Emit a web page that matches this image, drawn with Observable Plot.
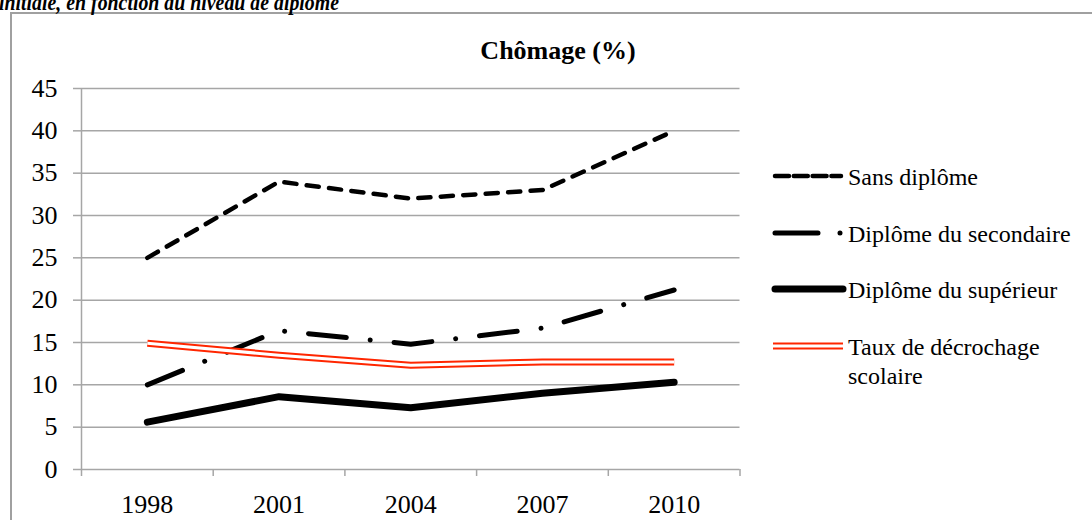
<!DOCTYPE html>
<html><head><meta charset="utf-8">
<script src="https://cdn.jsdelivr.net/npm/d3@7"></script>
<script src="https://cdn.jsdelivr.net/npm/@observablehq/plot@0.6"></script>
<style>
body{margin:0;background:#fff;}
#wrap{position:relative;width:1092px;height:520px;overflow:hidden;font-family:"Liberation Serif",serif;color:#000;}
#heading{position:absolute;left:-1px;top:-10px;font:bold italic 24px/1 "Liberation Serif",serif;white-space:nowrap;transform-origin:0 0;}
#frame{position:absolute;left:10px;top:12px;width:1200px;height:700px;border:2px solid #a0a0a0;box-sizing:border-box;}
#title{position:absolute;left:0;width:1116px;top:38px;text-align:center;font:bold 26px/1 "Liberation Serif",serif;}
#chart{position:absolute;left:0;top:0;}
.leg{position:absolute;left:770px;height:0;}
.leg svg{position:absolute;left:0;top:-15px;overflow:visible;}
.leg div{position:absolute;left:78px;white-space:nowrap;font:24px/29px "Liberation Serif",serif;}
</style></head>
<body>
<div id="wrap">
  <div id="frame"></div>
  <div id="heading">initiale, en fonction du niveau de diplôme</div>
  <div id="title">Chômage (%)</div>
  <div id="chart"></div>
</div>
<script>
const years = [1998, 2001, 2004, 2007, 2010];
const sansDiplome = [25, 34, 32, 33, 40];
const secondaire = [10, 16.4, 14.8, 16.7, 21.2];
const superieur = [5.6, 8.6, 7.3, 9.0, 10.3];
const decrochage = [14.9, 13.5, 12.3, 12.7, 12.7];
const yTicks = [0, 5, 10, 15, 20, 25, 30, 35, 40, 45];
const seriesNames = ["Sans diplôme", "Diplôme du secondaire", "Diplôme du supérieur", "Taux de décrochage scolaire"];
const seriesValues = [sansDiplome, secondaire, superieur, decrochage];

const styles = {
  "Sans diplôme": [{stroke: "#000", strokeWidth: 4.5, strokeDasharray: "12.2,10.3", strokeLinecap: "round"}],
  "Diplôme du secondaire": [{stroke: "#000", strokeWidth: 5, strokeDasharray: "38,24,0.01,24", strokeLinecap: "round"}],
  "Diplôme du supérieur": [{stroke: "#000", strokeWidth: 7, strokeLinecap: "round"}],
  "Taux de décrochage scolaire": [{stroke: "#ff2600", strokeWidth: 7, strokeLinecap: "butt"}, {stroke: "#fff", strokeWidth: 3, strokeLinecap: "butt"}]
};

const step = years[1] - years[0];
const xBounds = [...years.map(y => y - step / 2), years[years.length - 1] + step / 2];
const grid = "#a6a6a6";

const marks = [
  Plot.gridY(yTicks, {stroke: grid, strokeOpacity: 1, strokeWidth: 1.5}),
  Plot.ruleX([xBounds[0]], {y1: yTicks[0], y2: yTicks[yTicks.length - 1], stroke: grid, strokeWidth: 1.5}),
  Plot.axisY({ticks: yTicks, tickSize: 8, tickPadding: 16, stroke: grid, strokeWidth: 1.5, fill: "#000", label: null}),
  Plot.axisX({ticks: xBounds, tickSize: 7, tickFormat: () => "", stroke: grid, strokeWidth: 1.5, label: null}),
  Plot.axisX({ticks: years, tickSize: 0, tickPadding: 25, tickFormat: d => String(d), fill: "#000", label: null})
];
seriesNames.forEach((name, i) => {
  const data = years.map((year, j) => ({year, value: seriesValues[i][j]}));
  styles[name].forEach(s => {
    marks.push(Plot.line(data, {x: "year", y: "value", strokeLinejoin: "round", ...s}));
  });
});

const chart = Plot.plot({
  width: 1092, height: 520,
  marginLeft: 81, marginRight: 1092 - 739.5, marginTop: 88, marginBottom: 51,
  x: {domain: [xBounds[0], xBounds[xBounds.length - 1]], axis: null, label: null},
  y: {domain: [yTicks[0], yTicks[yTicks.length - 1]], axis: null, label: null},
  style: {fontFamily: "Liberation Serif, serif", fontSize: "26px", color: "#000", background: "transparent", overflow: "visible"},
  marks
});
document.getElementById("chart").appendChild(chart);

// fit the cropped heading to its width in the reference
const headEl = document.getElementById("heading");
const headW = headEl.getBoundingClientRect().width;
headEl.style.transform = `scaleX(${340 / headW})`;

// legend
const wrap = document.getElementById("wrap");
const rowY = [176, 232.5, 289, 345.5];
seriesNames.forEach((name, i) => {
  const row = document.createElement("div");
  row.className = "leg";
  row.style.top = rowY[i] + "px";
  const svg = d3.create("svg").attr("width", 80).attr("height", 30);
  const isSec = name === "Diplôme du secondaire";
  styles[name].forEach(s => {
    const l = svg.append("line").attr("x1", 5).attr("x2", 71).attr("y1", 15).attr("y2", 15)
      .attr("stroke", s.stroke).attr("stroke-width", s.strokeWidth).attr("stroke-linecap", s.strokeLinecap);
    if (s.strokeDasharray) l.attr("stroke-dasharray", isSec ? "43,22,0.01,30" : "14,4.8");
    if (name === "Diplôme du supérieur") l.attr("x2", 73);
    if (name === "Taux de décrochage scolaire") l.attr("x1", 3).attr("x2", 73);
  });
  row.appendChild(svg.node());
  const t = document.createElement("div");
  t.style.top = "-13px";
  t.style.width = "240px";
  t.style.whiteSpace = name.length > 22 ? "normal" : "nowrap";
  t.textContent = name;
  row.appendChild(t);
  wrap.appendChild(row);
});
</script>
</body></html>
